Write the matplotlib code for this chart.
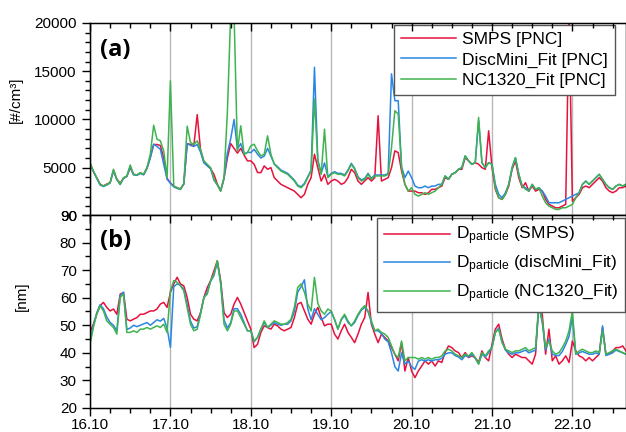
import matplotlib
matplotlib.use('Agg')
import matplotlib.pyplot as plt
import matplotlib.dates as mdates
from matplotlib.ticker import MultipleLocator, NullFormatter
import pandas as pd

plt.rcParams['font.family'] = ['Liberation Sans', 'DejaVu Sans']
plt.rcParams['mathtext.default'] = 'regular'

# hourly samples, 16.10 00:00 .. 22.10 16:00
time = pd.date_range('2019-10-16 00:00', periods=161, freq='h')

# (a) particle number concentration [#/cm3]
pnc_smps = [
    5450, 4600, 3950, 3300, 3100, 3300, 3450, 4700, 3800, 3400, 3900, 4100,
    5000, 4300, 4250, 4450, 4300, 4950, 6100, 7400, 7400, 7300, 6000, 3900,
    3400, 3100, 2900, 2800, 3300, 7500, 7400, 7300, 10500, 6800, 5600, 5200,
    4900, 4300, 3300, 2600, 3900, 6000, 7500, 7000, 6500, 7000, 6300, 5700,
    5700, 5350, 4500, 4480, 5180, 4830, 5000, 3960, 3610, 3270, 3090, 2920,
    2750, 2570, 2230, 1880, 2230, 3270, 3960, 6390, 5000, 3610, 4310, 3270,
    3610, 3790, 3610, 3270, 3440, 3960, 4830, 4480, 3610, 3270, 3610, 3960,
    3610, 3960, 10380, 3610, 3790, 3960, 5000, 6740, 6560, 4650, 3270, 2570,
    2570, 2570, 2400, 2400, 2230, 2400, 2750, 2750, 2920, 3090, 3960, 3790,
    4310, 4480, 4830, 4830, 6040, 5700, 5350, 5520, 5350, 5000, 4830, 8820,
    5000, 2750, 1880, 1710, 2230, 3090, 4830, 5700, 3960, 2920, 3440, 2570,
    3090, 2570, 2750, 2570, 1710, 1190, 1010, 840, 840, 1010, 1190, 21000,
    1530, 1880, 2230, 2920, 3090, 2920, 3270, 3610, 3960, 3610, 2920, 2570,
    2400, 2570, 2920, 2920, 3090]
pnc_discmini = [
    5400, 4600, 3900, 3200, 3050, 3200, 3400, 4700, 3750, 3250, 3900, 4100,
    5100, 4250, 4200, 4400, 4250, 4900, 6000, 7430, 7200, 6910, 5350, 3800,
    3400, 3000, 2850, 2750, 3300, 7500, 7300, 7200, 7400, 6600, 5500, 5200,
    4900, 3700, 3200, 2600, 3900, 6500, 8000, 10000, 6900, 7500, 6400, 6600,
    6560, 6900, 6400, 6000, 6200, 7000, 6200, 5400, 5100, 4750, 4580, 4410,
    4060, 3710, 3190, 3020, 3370, 4060, 4750, 15410, 5800, 4410, 5500, 4060,
    4410, 4580, 4410, 4410, 4240, 4750, 5450, 4930, 4060, 3710, 3890, 4410,
    3890, 4240, 4240, 4240, 4240, 4410, 14720, 11940, 11940, 5100, 3960, 4650,
    3960, 3090, 2920, 2920, 3090, 2920, 3090, 3090, 3270, 3270, 4140, 3790,
    4310, 4480, 4830, 5000, 6220, 5700, 5350, 5520, 9860, 5520, 5000, 5520,
    5350, 3270, 2230, 1880, 2400, 3270, 5000, 6040, 4310, 3090, 2920, 2570,
    3270, 2750, 2920, 2570, 2050, 1360, 1360, 1360, 1360, 1530, 1710, 1880,
    2050, 2230, 2400, 3270, 3610, 3270, 3610, 3960, 4310, 3790, 3270, 2920,
    2750, 3090, 3270, 3090, 3270]
pnc_nc1320 = [
    5500, 4650, 3960, 3270, 3090, 3270, 3440, 4830, 3790, 3270, 3960, 4140,
    5280, 4310, 4240, 4480, 4310, 5000, 6400, 9400, 7950, 7780, 6740, 3960,
    14000, 3090, 2920, 2750, 3400, 9300, 7600, 7400, 7780, 6900, 5700, 5350,
    5000, 3800, 3270, 2570, 3960, 10730, 21000, 21000, 6740, 9340, 6390, 6560,
    7260, 7430, 6740, 6220, 6390, 8300, 6390, 5350, 5000, 4650, 4480, 4310,
    3960, 3610, 3090, 2920, 3270, 3960, 4650, 12120, 5700, 4310, 8990, 3960,
    4310, 4480, 4310, 4310, 4140, 4650, 5350, 4830, 3960, 3610, 3790, 4310,
    3790, 4140, 4140, 4140, 4140, 4310, 7080, 10900, 10560, 5000, 3270, 2570,
    2920, 2230, 2050, 2230, 2400, 2230, 2400, 2570, 2920, 3270, 4140, 3790,
    4310, 4480, 4830, 5000, 6220, 5700, 5350, 5520, 10210, 5520, 5000, 5520,
    5350, 2920, 1880, 1710, 2230, 3270, 5000, 6040, 4310, 3090, 2750, 2570,
    3270, 2750, 2920, 2050, 1360, 1010, 840, 670, 670, 840, 840, 1010,
    1190, 1880, 2400, 3270, 3610, 3270, 3610, 3960, 4310, 3790, 3270, 2920,
    2750, 3090, 3270, 3090, 3270]

# (b) particle diameter [nm]
d_smps = [
    47.4, 50.4, 54.0, 57.1, 58.3, 56.5, 55.2, 55.9, 54.0, 61.3, 61.9, 52.2,
    51.6, 52.2, 52.8, 54.0, 54.0, 54.6, 55.2, 55.2, 55.9, 57.7, 58.3, 56.5,
    61.9, 65.0, 67.4, 65.0, 64.3, 60.1, 54.0, 52.2, 51.6, 54.6, 60.1, 63.7,
    66.2, 69.8, 73.4, 66.2, 54.6, 52.8, 54.0, 57.7, 60.1, 57.7, 54.6, 51.6,
    48.6, 41.9, 43.1, 47.4, 49.8, 49.2, 48.6, 50.4, 49.8, 48.6, 48.0, 48.6,
    49.2, 52.8, 57.7, 58.3, 55.2, 52.2, 50.4, 54.0, 56.5, 52.8, 49.8, 50.4,
    50.4, 46.8, 45.0, 48.0, 50.4, 47.4, 45.6, 43.7, 46.8, 50.4, 52.8, 61.9,
    50.4, 46.8, 43.7, 46.8, 45.6, 44.3, 41.9, 39.5, 37.1, 43.7, 33.4, 38.3,
    33.4, 31.0, 33.4, 35.2, 37.1, 35.9, 37.1, 35.2, 37.1, 36.5, 40.1, 42.5,
    41.9, 40.7, 40.1, 38.3, 40.1, 38.3, 38.9, 38.3, 36.5, 40.7, 38.3, 37.1,
    43.1, 48.6, 50.4, 45.0, 41.3, 39.5, 38.3, 39.5, 38.9, 38.3, 38.3, 37.1,
    35.9, 39.5, 58.3, 54.0, 39.5, 48.6, 37.1, 38.9, 35.9, 37.1, 38.9, 36.5,
    44.3, 40.7, 38.9, 38.3, 37.1, 38.3, 37.1, 38.3, 39.5, 49.2, 39.5, 39.5,
    40.7, 41.9, 41.9, 42.5, 40.7]
d_discmini = [
    44.0, 50.0, 54.5, 57.5, 56.0, 53.0, 51.0, 50.0, 48.0, 60.7, 62.0, 48.5,
    49.0, 50.0, 49.5, 50.0, 50.5, 51.0, 50.0, 51.0, 52.0, 51.5, 52.5, 49.0,
    42.0, 64.0, 65.0, 64.5, 63.0, 57.5, 51.5, 49.0, 49.5, 54.5, 60.0, 62.0,
    66.0, 68.0, 73.0, 65.5, 52.0, 49.0, 51.0, 56.0, 56.0, 54.0, 51.0, 48.0,
    48.0, 44.0, 45.6, 48.6, 51.0, 49.2, 50.0, 51.0, 50.4, 50.0, 50.4, 50.4,
    51.6, 55.0, 62.0, 64.0, 66.5, 56.0, 52.0, 56.0, 54.0, 52.0, 52.8, 54.0,
    55.0, 52.0, 48.6, 52.0, 53.5, 51.0, 49.8, 51.0, 53.5, 55.5, 56.5, 55.0,
    51.0, 48.0, 48.0, 47.0, 45.0, 44.0, 40.0, 35.0, 33.4, 40.0, 36.0, 37.0,
    35.0, 34.0, 37.0, 37.5, 37.0, 37.5, 37.0, 37.5, 37.5, 38.0, 39.5, 40.0,
    40.0, 39.0, 38.5, 37.5, 39.0, 38.5, 39.5, 38.0, 36.0, 39.5, 38.5, 40.0,
    42.0, 47.5, 49.0, 44.0, 41.0, 40.0, 39.5, 40.0, 40.0, 40.5, 41.0, 40.0,
    40.5, 41.0, 57.0, 51.0, 41.0, 45.0, 39.5, 39.0, 39.0, 40.5, 43.0, 46.0,
    53.0, 39.5, 40.0, 40.5, 40.0, 39.5, 39.5, 40.0, 39.5, 49.8, 39.0, 39.5,
    40.0, 41.0, 40.5, 40.0, 39.5]
d_nc1320 = [
    43.1, 49.2, 54.0, 57.1, 55.2, 51.6, 50.4, 49.2, 46.8, 60.1, 61.3, 47.4,
    47.4, 48.0, 47.4, 48.6, 48.6, 49.2, 48.6, 49.2, 49.8, 49.2, 50.4, 47.4,
    62.5, 66.2, 65.6, 64.3, 62.5, 56.5, 50.4, 48.0, 48.6, 54.0, 60.1, 61.3,
    66.2, 68.6, 73.4, 65.0, 50.4, 48.0, 50.4, 55.2, 55.2, 52.8, 50.4, 48.0,
    48.0, 44.3, 45.6, 48.6, 51.6, 49.2, 50.4, 51.6, 51.0, 50.4, 50.4, 51.0,
    52.2, 56.5, 63.7, 65.0, 62.0, 57.7, 55.2, 67.4, 58.0, 55.2, 54.0, 55.9,
    55.2, 52.2, 48.6, 52.2, 54.0, 51.6, 49.8, 51.6, 54.0, 55.9, 57.1, 55.2,
    51.6, 48.0, 48.6, 47.4, 46.8, 45.6, 42.5, 39.5, 38.3, 44.3, 37.1, 38.3,
    38.3, 38.3, 37.7, 38.3, 37.7, 38.3, 37.7, 38.3, 38.3, 38.9, 40.7, 41.3,
    40.7, 39.5, 38.9, 38.3, 39.5, 38.9, 40.1, 38.3, 35.9, 40.1, 38.9, 40.7,
    41.9, 47.4, 48.6, 43.7, 41.3, 40.7, 40.1, 40.7, 40.7, 41.3, 41.9, 40.7,
    41.3, 41.9, 57.7, 51.6, 41.9, 44.3, 40.7, 39.5, 40.1, 41.9, 44.3, 48.0,
    55.2, 39.5, 40.7, 41.3, 40.7, 40.1, 40.1, 40.7, 40.1, 48.0, 39.5, 40.1,
    40.7, 41.3, 40.7, 40.1, 39.5]

red = '#e6123d'
blue = '#2b86e3'
green = '#3fb34f'

fig = plt.figure(figsize=(6.26, 4.32), dpi=100)
ax1 = fig.add_axes([0.1438, 0.5023, 0.8562, 0.4445])
ax2 = fig.add_axes([0.1438, 0.0556, 0.8562, 0.4467])

ax1.plot(time, pnc_smps, color=red, lw=1.1, label='SMPS [PNC]')
ax1.plot(time, pnc_discmini, color=blue, lw=1.1, label='DiscMini_Fit [PNC]')
ax1.plot(time, pnc_nc1320, color=green, lw=1.1, label='NC1320_Fit [PNC]')

ax2.plot(time, d_smps, color=red, lw=1.1, label=r'D$_{particle}$ (SMPS)')
ax2.plot(time, d_discmini, color=blue, lw=1.1, label=r'D$_{particle}$ (discMini_Fit)')
ax2.plot(time, d_nc1320, color=green, lw=1.1, label=r'D$_{particle}$ (NC1320_Fit)')

for ax in (ax1, ax2):
    ax.set_xlim(time[0], time[-1])
    ax.xaxis.set_major_locator(mdates.DayLocator())
    ax.xaxis.set_minor_locator(mdates.HourLocator(byhour=[6, 12, 18]))
    ax.xaxis.set_major_formatter(mdates.DateFormatter('%d.%m'))
    ax.grid(axis='x', which='major', color='#b8b8b8', lw=1)
    ax.tick_params(which='major', length=6, width=1, direction='out', labelsize=11)
    ax.tick_params(which='minor', length=3.5, width=1, direction='out')
    ax.tick_params(axis='x', pad=1.5)
    for s in ax.spines.values():
        s.set_linewidth(1)
    # inward ticks along the top edge
    top = ax.twiny()
    top.set_xlim(ax.get_xlim())
    top.xaxis.set_major_locator(mdates.DayLocator())
    top.xaxis.set_minor_locator(mdates.HourLocator(byhour=[6, 12, 18]))
    top.xaxis.set_major_formatter(NullFormatter())
    top.tick_params(which='major', length=6, width=1, direction='in')
    top.tick_params(which='minor', length=3.5, width=1, direction='in')

ax1.tick_params(axis='x', labelbottom=False)

ax1.set_ylim(90, 20000)
ax1.set_yticks([90, 5000, 10000, 15000, 20000])
ax1.yaxis.set_minor_locator(MultipleLocator(1000))
ax1.set_ylabel('[#/cm³]', fontsize=11)
ax1.yaxis.set_label_coords(-0.125, 0.6)

ax2.set_ylim(20, 90)
ax2.set_yticks(range(20, 91, 10))
ax2.yaxis.set_minor_locator(MultipleLocator(5))
ax2.set_ylabel('[nm]', fontsize=11)
ax2.yaxis.set_label_coords(-0.115, 0.58)

ax1.text(0.018, 0.86, '(a)', transform=ax1.transAxes, fontsize=17,
         fontweight='bold', va='center', family='Open Sans')
ax2.text(0.018, 0.865, '(b)', transform=ax2.transAxes, fontsize=17,
         fontweight='bold', va='center', family='Open Sans')

leg1 = ax1.legend(loc='upper left', bbox_to_anchor=(0.567, 0.99), borderaxespad=0,
                  fontsize=12.5, handlelength=3.2, handletextpad=0.35,
                  labelspacing=0.3, borderpad=0.4, fancybox=False,
                  edgecolor='#555555', framealpha=1)
leg1.get_frame().set_linewidth(1)

leg2 = ax2.legend(loc='upper left', bbox_to_anchor=(0.535, 0.985), borderaxespad=0,
                  fontsize=12.5, handlelength=3.8, handletextpad=0.35,
                  labelspacing=0.35, borderpad=0.4, fancybox=False,
                  edgecolor='#555555', framealpha=1)
leg2.get_frame().set_linewidth(1)

fig.savefig('out.png', dpi=100)
